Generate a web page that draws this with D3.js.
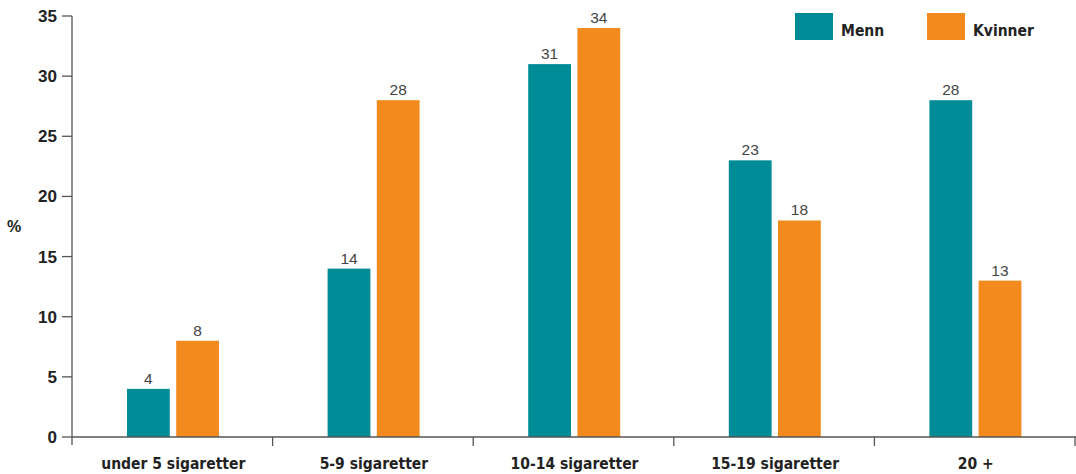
<!DOCTYPE html>
<html><head><meta charset="utf-8">
<script src="https://cdn.jsdelivr.net/npm/d3@7"></script>
<style>body{margin:0;background:#fff}svg{display:block}</style>
</head><body>
<svg id="c" width="1076" height="474"></svg>
<script>
const categories = ["under 5 sigaretter","5-9 sigaretter","10-14 sigaretter","15-19 sigaretter","20 +"];
const seriesNames = ["Menn","Kvinner"];
const menn = [4,14,31,23,28];
const kvinner = [8,28,34,18,13];
const yTicks = [0,5,10,15,20,25,30,35];
const colors = ["#008C97","#F28A1E"];

const svg = d3.select("#c");
const x0 = 72, x1 = 1075, yTop = 16, yBot = 437;
const x = d3.scaleBand().domain(categories).range([x0,x1]).padding(0);
const y = d3.scaleLinear().domain([0,35]).range([yBot,yTop]);
const xs = d3.scaleBand().domain(seriesNames).range([0,92]).paddingInner(0.13);
const fontNarrow = "'Liberation Sans Narrow','DejaVu Sans Condensed',sans-serif";
const fontMain = "'Liberation Sans',Arial,sans-serif";

const data = categories.map((c,i)=>({c, vals:[menn[i],kvinner[i]]}));

const g = svg.append("g");
data.forEach(d=>{
  const off = x(d.c) + 55;
  d.vals.forEach((v,j)=>{
    const bx = off + xs(seriesNames[j]);
    g.append("rect").attr("x",bx).attr("y",y(v)).attr("width",xs.bandwidth()).attr("height",y(0)-y(v)).attr("fill",colors[j]);
    g.append("text").attr("x",bx+xs.bandwidth()/2).attr("y",y(v)-5).attr("text-anchor","middle")
      .attr("font-family",fontMain).attr("font-size",15.5).attr("fill","#444").text(v);
  });
});

// y axis
const axisColor = "#555";
svg.append("line").attr("x1",x0).attr("x2",x0).attr("y1",yTop).attr("y2",yBot+8).attr("stroke",axisColor).attr("stroke-width",1.3);
yTicks.forEach(t=>{
  svg.append("line").attr("x1",x0-10).attr("x2",x0).attr("y1",y(t)).attr("y2",y(t)).attr("stroke",axisColor).attr("stroke-width",1.3);
  svg.append("text").attr("x",x0-15).attr("y",y(t)+6).attr("text-anchor","end")
    .attr("font-family",fontMain).attr("font-weight","bold").attr("font-size",17).attr("fill","#222").text(t);
});
// x axis
svg.append("line").attr("x1",x0).attr("x2",x1+1).attr("y1",yBot).attr("y2",yBot).attr("stroke",axisColor).attr("stroke-width",1.5);
categories.forEach((c,i)=>{
  const tx = x(c)+x.bandwidth();
  svg.append("line").attr("x1",tx).attr("x2",tx).attr("y1",yBot).attr("y2",yBot+9).attr("stroke",axisColor).attr("stroke-width",1.3);
  svg.append("text").attr("x",x(c)+x.bandwidth()/2+1).attr("y",yBot+32).attr("text-anchor","middle")
    .attr("font-family",fontNarrow).attr("font-weight","bold").attr("font-size",15.5).attr("fill","#222").text(c);
});
svg.append("text").attr("x",14).attr("y",232).attr("text-anchor","middle")
  .attr("font-family",fontMain).attr("font-weight","bold").attr("font-size",16).attr("fill","#222").text("%");

// legend
const legX = [795,927];
seriesNames.forEach((s,j)=>{
  svg.append("rect").attr("x",legX[j]).attr("y",13).attr("width",38).attr("height",27).attr("fill",colors[j]);
  svg.append("text").attr("x",legX[j]+46).attr("y",36).attr("font-family",fontNarrow).attr("font-weight","bold")
    .attr("font-size",15.5).attr("fill","#222").text(s);
});
</script>
</body></html>
